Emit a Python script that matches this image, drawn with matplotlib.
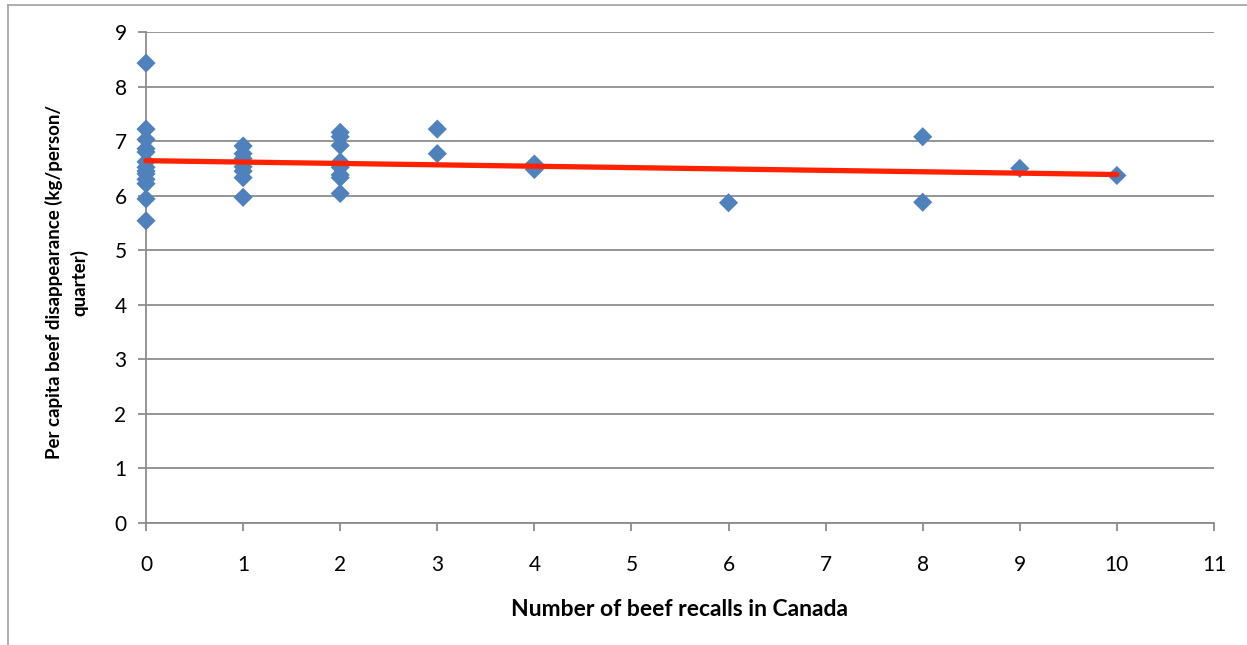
import matplotlib.pyplot as plt
from matplotlib.lines import Line2D
import numpy as np

# recalls per quarter and per capita beef disappearance (kg/person/quarter)
recalls_0 = [0] * 13
beef_0 = [8.43, 7.22, 7.03, 6.86, 6.80, 6.62, 6.52, 6.45, 6.40, 6.30, 6.22, 5.94, 5.54]
recalls_1 = [1] * 7
beef_1 = [6.91, 6.77, 6.68, 6.53, 6.45, 6.33, 5.97]
recalls_2 = [2] * 9
beef_2 = [7.16, 7.08, 6.92, 6.62, 6.57, 6.52, 6.38, 6.33, 6.04]
recalls_other = [3, 3, 4, 4, 6, 8, 8, 9, 10]
beef_other = [7.22, 6.77, 6.58, 6.48, 5.87, 7.08, 5.88, 6.50, 6.37]

x = np.array(recalls_0 + recalls_1 + recalls_2 + recalls_other, dtype=float)
y = np.array(beef_0 + beef_1 + beef_2 + beef_other)

plt.rcParams['font.family'] = ['Lato', 'DejaVu Sans']

fig = plt.figure(figsize=(12.47, 6.45), dpi=100)
ax = fig.add_axes([0.1171, 0.1891, 0.8564, 0.7613])

ax.scatter(x, y, marker='D', s=95, color='#4F81BD', edgecolors='none',
           zorder=3, clip_on=False)

# linear trend line
slope, intercept = np.polyfit(x, y, 1)
xt = np.array([x.min(), x.max()])
ax.plot(xt, intercept + slope * xt, color='#FF2200', lw=3.8,
        solid_capstyle='round', zorder=4, clip_on=False)

ax.set_xlim(0, 11)
ax.set_ylim(0, 9)
ax.set_xticks(range(0, 12))
ax.set_yticks(range(0, 10))
ax.grid(axis='y', color='#8C8C8C', lw=1.3)
ax.set_axisbelow(True)
for side in ['top', 'right']:
    ax.spines[side].set_visible(False)
for side in ['left', 'bottom']:
    ax.spines[side].set_color('#8C8C8C')
    ax.spines[side].set_linewidth(1.3)
ax.tick_params(direction='out', length=6, width=1.3, color='#8C8C8C', labelsize=15)
ax.tick_params(axis='x', pad=17)
ax.tick_params(axis='y', pad=8)

ax.set_xlabel('Number of beef recalls in Canada', fontsize=16.5, fontweight='bold',
              va='center')
ax.xaxis.set_label_coords(0.5, -0.177)
ax.set_ylabel('Per capita beef disappearance (kg/person/\nquarter)', fontsize=13.5,
              fontweight='bold', linespacing=1.5, va='center', ha='center')
ax.yaxis.set_label_coords(-0.074, 0.49)

# chart area border
bx, by = 8 / 1247, 1 - 5 / 645
fig.add_artist(Line2D([bx, 1.0], [by, by], color='#A6A6A6', lw=1.3))
fig.add_artist(Line2D([bx, bx], [0.0, by], color='#A6A6A6', lw=1.3))

fig.savefig('out.png', dpi=100)
